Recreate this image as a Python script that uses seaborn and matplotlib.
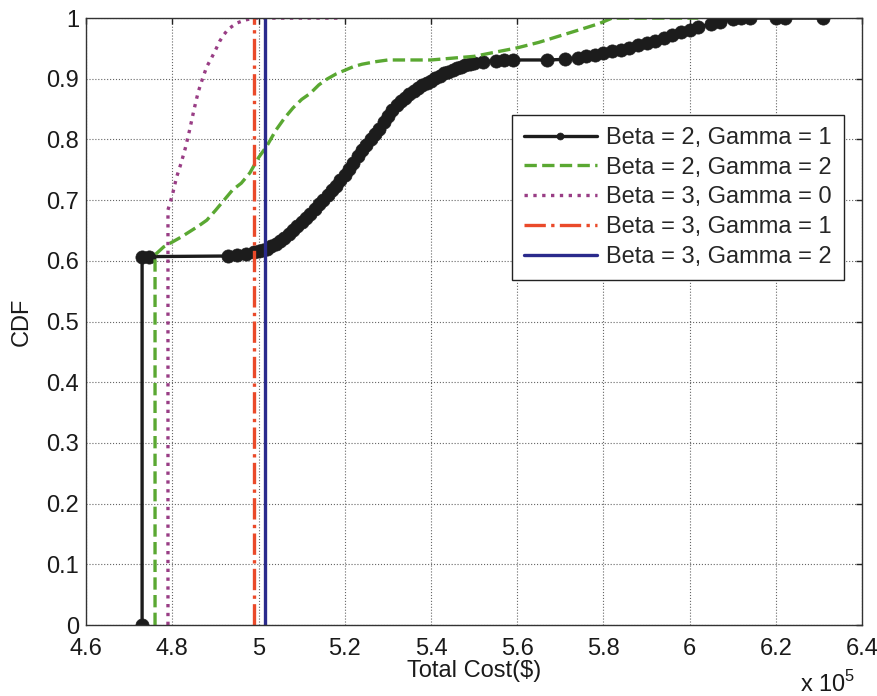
import pandas as pd
import matplotlib
matplotlib.use('Agg')
import matplotlib.pyplot as plt
import seaborn as sns

# Total cost values (in units of 1e5 $) and CDF values
b2g1_cost = [4.73, 4.73, 4.745, 4.93, 4.95, 4.97, 4.99,
             5.00, 5.01, 5.02, 5.03, 5.04, 5.05, 5.06, 5.07, 5.08, 5.09,
             5.10, 5.11, 5.12, 5.13, 5.14, 5.15, 5.16, 5.17, 5.18, 5.19,
             5.20, 5.21, 5.22, 5.23, 5.24, 5.25, 5.26, 5.27, 5.28, 5.29,
             5.30, 5.31, 5.32, 5.33, 5.34, 5.35, 5.36, 5.37, 5.38, 5.39,
             5.40, 5.41, 5.42, 5.43, 5.44, 5.45, 5.46, 5.47, 5.48, 5.49,
             5.50, 5.52, 5.55, 5.57, 5.59, 5.67, 5.71, 5.74, 5.76, 5.78,
             5.80, 5.82, 5.84, 5.86, 5.88, 5.90, 5.92, 5.94, 5.96, 5.98,
             6.00, 6.02, 6.05, 6.07, 6.10, 6.12, 6.14, 6.20, 6.22, 6.31]
b2g1_cdf = [0.0, 0.607, 0.607, 0.608, 0.610, 0.612, 0.614,
            0.616, 0.618, 0.620, 0.624, 0.628, 0.633, 0.638, 0.644, 0.651, 0.657,
            0.664, 0.671, 0.678, 0.685, 0.693, 0.700, 0.708, 0.716, 0.724, 0.733,
            0.742, 0.752, 0.762, 0.772, 0.782, 0.791, 0.800, 0.809, 0.818, 0.828,
            0.838, 0.848, 0.857, 0.863, 0.869, 0.875, 0.880, 0.885, 0.889, 0.893,
            0.896, 0.901, 0.905, 0.909, 0.912, 0.915, 0.917, 0.920, 0.922, 0.924,
            0.926, 0.928, 0.930, 0.931, 0.931, 0.931, 0.932, 0.935, 0.938, 0.940,
            0.942, 0.945, 0.948, 0.951, 0.955, 0.959, 0.963, 0.967, 0.972, 0.977,
            0.981, 0.985, 0.990, 0.994, 0.998, 1.0, 1.0, 1.0, 1.0, 1.0]

b2g2_cost = [4.76, 4.76, 4.78, 4.80, 4.82, 4.84, 4.86, 4.88, 4.90, 4.92, 4.94, 4.96, 4.98,
             5.00, 5.02, 5.04, 5.06, 5.08, 5.10, 5.12, 5.14, 5.16, 5.18, 5.20, 5.22, 5.24,
             5.27, 5.30, 5.35, 5.40, 5.45, 5.50, 5.55, 5.60, 5.65, 5.70, 5.75, 5.79, 5.82, 6.02]
b2g2_cdf = [0.0, 0.61, 0.623, 0.631, 0.639, 0.648, 0.657, 0.667, 0.683, 0.700, 0.717, 0.728, 0.745,
            0.770, 0.790, 0.815, 0.835, 0.852, 0.866, 0.876, 0.890, 0.900, 0.908, 0.914, 0.920, 0.924,
            0.928, 0.931, 0.931, 0.931, 0.934, 0.937, 0.944, 0.951, 0.960, 0.971, 0.982, 0.991, 1.0, 1.0]

b3g0_cost = [4.79, 4.79, 4.80, 4.81, 4.82, 4.83, 4.84, 4.85, 4.86, 4.87, 4.88, 4.89, 4.90,
             4.91, 4.92, 4.93, 4.95, 4.97, 4.99, 5.19]
b3g0_cdf = [0.0, 0.684, 0.708, 0.738, 0.760, 0.785, 0.815, 0.848, 0.878, 0.900, 0.920, 0.933, 0.947,
            0.962, 0.973, 0.982, 0.992, 0.997, 1.0, 1.0]

b3g1_cost = [4.99, 4.99]
b3g1_cdf = [0.0, 1.0]

b3g2_cost = [5.015, 5.015]
b3g2_cdf = [0.0, 1.0]

labels = ['Beta = 2, Gamma = 1', 'Beta = 2, Gamma = 2', 'Beta = 3, Gamma = 0',
          'Beta = 3, Gamma = 1', 'Beta = 3, Gamma = 2']
colors = ['#1c1c1c', '#5aa832', '#993d85', '#ea4a2a', '#2a2a8c']
x_ticks = [4.6, 4.8, 5.0, 5.2, 5.4, 5.6, 5.8, 6.0, 6.2, 6.4]
x_ticklabels = ['4.6', '4.8', '5', '5.2', '5.4', '5.6', '5.8', '6', '6.2', '6.4']
y_ticks = [0, 0.1, 0.2, 0.3, 0.4, 0.5, 0.6, 0.7, 0.8, 0.9, 1.0]
y_ticklabels = ['0', '0.1', '0.2', '0.3', '0.4', '0.5', '0.6', '0.7', '0.8', '0.9', '1']

sns.set_theme(style='white')
plt.rcParams['font.family'] = ['Liberation Sans', 'DejaVu Sans']
plt.rcParams['mathtext.fontset'] = 'custom'
plt.rcParams['mathtext.rm'] = 'Liberation Sans'

fig = plt.figure(figsize=(8.78, 6.96), dpi=100)
ax = fig.add_axes([0.098, 0.102, 0.884, 0.872])

series = [(b2g1_cost, b2g1_cdf), (b2g2_cost, b2g2_cdf), (b3g0_cost, b3g0_cdf),
          (b3g1_cost, b3g1_cdf), (b3g2_cost, b3g2_cdf)]
styles = ['-', '--', ':', '-.', '-']

for (cost, cdf), lab, col, ls in zip(series, labels, colors, styles):
    df = pd.DataFrame({'cost': cost, 'cdf': cdf})
    kws = dict(data=df, x='cost', y='cdf', sort=False, estimator=None, ax=ax,
               color=col, linestyle=ls, linewidth=2.4, label=lab)
    if lab == labels[0]:
        kws.update(marker='o', markersize=9.5, markeredgecolor=col, markeredgewidth=0.5)
    sns.lineplot(**kws)

ax.set_xlim(4.6, 6.4)
ax.set_ylim(0, 1)
ax.set_xticks(x_ticks)
ax.set_xticklabels(x_ticklabels)
ax.set_yticks(y_ticks)
ax.set_yticklabels(y_ticklabels)
ax.tick_params(direction='in', length=4, width=1, color='#222222', labelsize=17,
               top=True, right=True, labelcolor='#1a1a1a')
ax.tick_params(axis='x', pad=9)
ax.tick_params(axis='y', pad=5)
ax.grid(True, linestyle=':', linewidth=0.8, color='#666666')
for sp in ax.spines.values():
    sp.set_color('#333333')
    sp.set_linewidth(1)

ax.set_xlabel('Total Cost($)', fontsize=17, labelpad=0, color='#1a1a1a')
ax.set_ylabel('CDF', fontsize=17, labelpad=10, color='#1a1a1a')
fig.text(855 / 878, 1 - 684 / 696, r'x 10$^{5}$', fontsize=17, ha='right', va='center',
         color='#1a1a1a')

leg = ax.legend(loc='upper left', bbox_to_anchor=(512 / 878, 1 - 115 / 696),
                bbox_transform=fig.transFigure, borderaxespad=0, fontsize=17,
                frameon=True, fancybox=False, edgecolor='#222222', framealpha=1,
                handlelength=3.1, handletextpad=0.4, labelspacing=0.33, borderpad=0.5)
leg.get_frame().set_linewidth(1)
leg.legend_handles[0].set_markersize(5)

fig.savefig('out.png', dpi=100, facecolor='white')
